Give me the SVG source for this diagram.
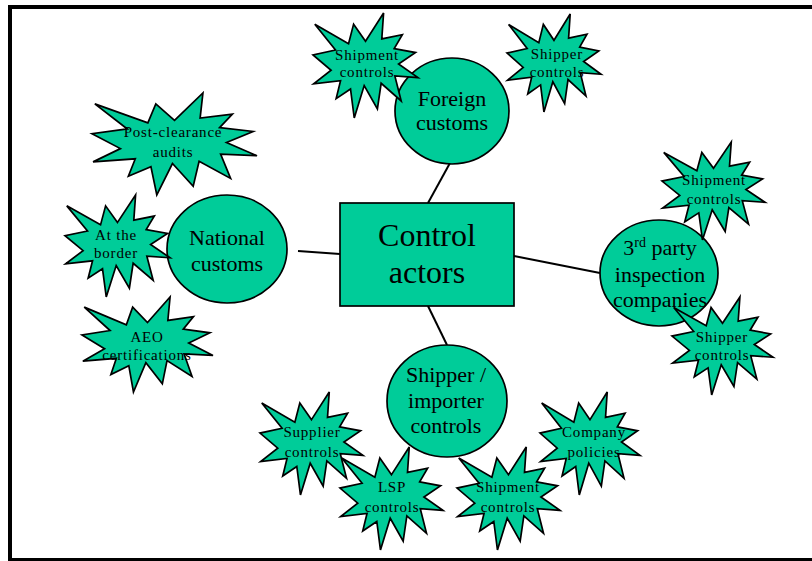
<svg xmlns="http://www.w3.org/2000/svg" xmlns:xlink="http://www.w3.org/1999/xlink" width="812" height="561" viewBox="0 0 812 561">
  <style>
    .shape { fill: #00CC99; stroke: #000; stroke-width: 1.7; }
    .link { stroke: #000; stroke-width: 2; fill: none; }
    .frame { fill: #000; }
    text { font-family: "Liberation Serif", "Times New Roman", serif; fill: #000; text-anchor: middle; }
    .big { font-size: 32px; }
    .mid { font-size: 22px; }
    .small { font-size: 15px; letter-spacing: 0.8px; }
  </style>
  <defs>
    <!-- explosion burst in a 100x100 box -->
    <path id="burst" vector-effect="non-scaling-stroke" d="M50,26.85 L67.23,0 L65.53,24.65 L85.09,20.63 L77.32,33.87 L97.67,37.67 L81.51,48.5 L100,61.53 L77.95,59.92 L84,83.77 L64.91,66.93 L61.33,91.38 L48.76,69.14 L39.28,100 L35.72,72.34 L22.05,81.56 L26.24,64.52 L0.63,67.53 L17.23,54.51 L0,39.88 L21.42,35.26 L1.71,10.63 L33.85,29.26 L38.67,10.63 Z"/>
  </defs>

  <rect width="812" height="561" fill="#fff"/>
  <g id="frame">
    <rect class="frame" x="8" y="5" width="804" height="4"/>
    <rect class="frame" x="8" y="5" width="4" height="556"/>
    <rect class="frame" x="8" y="558" width="804" height="3"/>
  </g>

  <g id="connectors">
    <line class="link" x1="428" y1="203" x2="450" y2="163"/>
    <line class="link" x1="298" y1="251" x2="340" y2="254"/>
    <line class="link" x1="514" y1="256" x2="600" y2="273"/>
    <line class="link" x1="428" y1="306" x2="447" y2="345"/>
  </g>

  <g id="control-actors">
    <rect class="shape" x="340" y="203" width="174" height="103"/>
    <text class="big" x="427" y="246">Control</text>
    <text class="big" x="427" y="283">actors</text>
  </g>

  <g id="foreign-customs">
    <ellipse class="shape" cx="452" cy="111" rx="57" ry="53"/>
    <text class="mid" x="452" y="106">Foreign</text>
    <text class="mid" x="452" y="130">customs</text>
  </g>

  <g id="national-customs">
    <ellipse class="shape" cx="227" cy="249" rx="60" ry="54"/>
    <text class="mid" x="227" y="245">National</text>
    <text class="mid" x="227" y="271">customs</text>
  </g>

  <g id="third-party">
    <ellipse class="shape" cx="659" cy="273" rx="59" ry="53"/>
    <text class="mid" x="660" y="255">3<tspan font-size="14" dy="-8">rd</tspan><tspan dy="8"> party</tspan></text>
    <text class="mid" x="660" y="282">inspection</text>
    <text class="mid" x="660" y="307">companies</text>
  </g>

  <g id="shipper-importer">
    <ellipse class="shape" cx="447" cy="401" rx="60" ry="56"/>
    <text class="mid" x="446" y="382">Shipper /</text>
    <text class="mid" x="446" y="408">importer</text>
    <text class="mid" x="446" y="433">controls</text>
  </g>

  <g id="foreign-shipment">
    <use xlink:href="#burst" class="shape" transform="translate(313,13) scale(1.05,1.05)"/>
    <text class="small" x="367" y="60">Shipment</text>
    <text class="small" x="367" y="77">controls</text>
  </g>

  <g id="foreign-shipper">
    <use xlink:href="#burst" class="shape" transform="translate(507,14) scale(0.94,0.98)"/>
    <text class="small" x="557" y="59">Shipper</text>
    <text class="small" x="557" y="77">controls</text>
  </g>

  <g id="post-clearance">
    <use xlink:href="#burst" class="shape" transform="translate(92,93) scale(1.65,1.02)"/>
    <text class="small" x="173" y="137">Post-clearance</text>
    <text class="small" x="173" y="157">audits</text>
  </g>

  <g id="at-border">
    <use xlink:href="#burst" class="shape" transform="translate(65,195) scale(1.05,1.02)"/>
    <text class="small" x="116" y="240">At the</text>
    <text class="small" x="116" y="258">border</text>
  </g>

  <g id="aeo">
    <use xlink:href="#burst" class="shape" transform="translate(82,297) scale(1.31,0.95)"/>
    <text class="small" x="147" y="342">AEO</text>
    <text class="small" x="147" y="360">certifications</text>
  </g>

  <g id="third-shipment">
    <use xlink:href="#burst" class="shape" transform="translate(662,142) scale(1.03,0.98)"/>
    <text class="small" x="714" y="185">Shipment</text>
    <text class="small" x="714" y="204">controls</text>
  </g>

  <g id="third-shipper">
    <use xlink:href="#burst" class="shape" transform="translate(672,297) scale(1.01,0.98)"/>
    <text class="small" x="722" y="342">Shipper</text>
    <text class="small" x="722" y="360">controls</text>
  </g>

  <g id="supplier">
    <use xlink:href="#burst" class="shape" transform="translate(260,392) scale(1.03,1.03)"/>
    <text class="small" x="312" y="437">Supplier</text>
    <text class="small" x="312" y="457">controls</text>
  </g>

  <g id="lsp">
    <use xlink:href="#burst" class="shape" transform="translate(340,447) scale(1.03,1.03)"/>
    <text class="small" x="392" y="492">LSP</text>
    <text class="small" x="392" y="512">controls</text>
  </g>

  <g id="importer-shipment">
    <use xlink:href="#burst" class="shape" transform="translate(457,447) scale(1.03,1.03)"/>
    <text class="small" x="508" y="492">Shipment</text>
    <text class="small" x="508" y="512">controls</text>
  </g>

  <g id="company-policies">
    <use xlink:href="#burst" class="shape" transform="translate(540,392) scale(1.0,1.03)"/>
    <text class="small" x="594" y="437">Company</text>
    <text class="small" x="594" y="457">policies</text>
  </g>
</svg>
